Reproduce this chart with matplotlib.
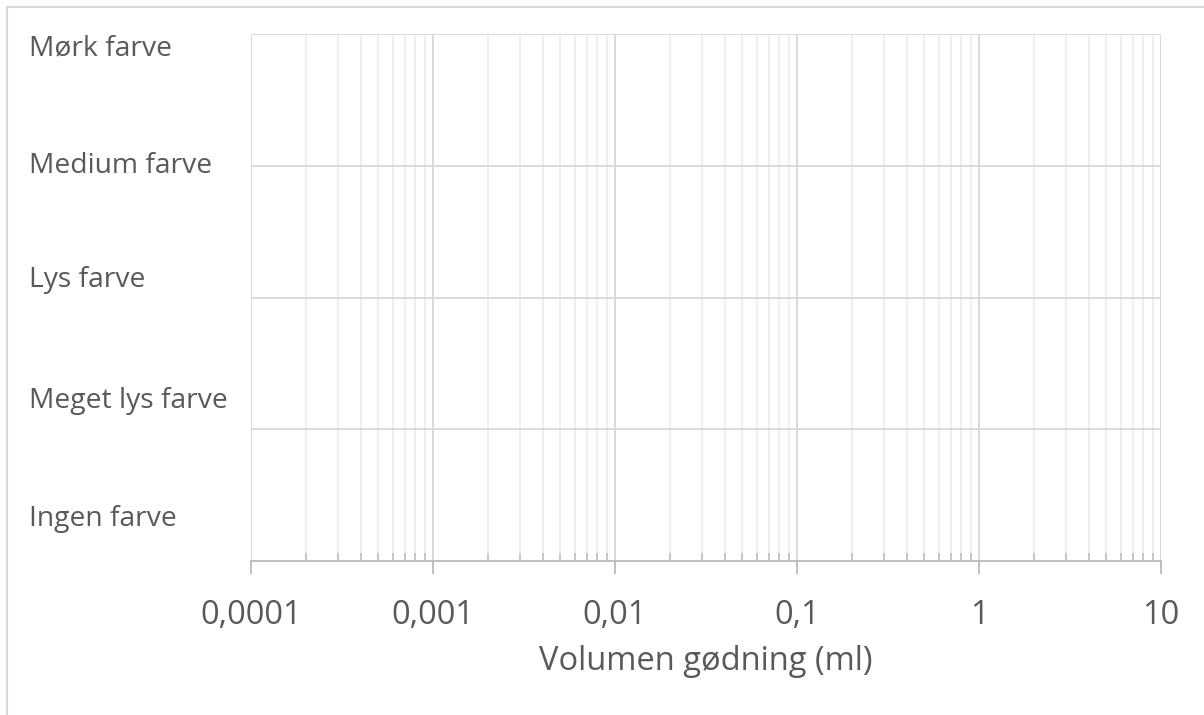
import matplotlib
matplotlib.use("Agg")
import matplotlib.pyplot as plt
from matplotlib.lines import Line2D
from matplotlib.ticker import FixedLocator, FuncFormatter, LogLocator, NullFormatter

# categories, bottom to top
categories = ["Ingen farve", "Meget lys farve", "Lys farve", "Medium farve", "Mørk farve"]
# label centres in figure pixels (text box, not tick labels)
label_y_px = [519, 401, 280, 166, 48]
x_ticks = [0.0001, 0.001, 0.01, 0.1, 1, 10]
x_label = "Volumen gødning (ml)"
y_levels = [0, 1, 2, 3, 4]

TEXT = "#595959"
FONT = ["Open Sans", "DejaVu Sans"]
W, H = 1204, 715

fig = plt.figure(figsize=(W / 100, H / 100), dpi=100)
ax = fig.add_axes([251 / W, (H - 561) / H, (1161 - 251) / W, (561 - 34) / H])

ax.set_xscale("log")
ax.set_xlim(x_ticks[0], x_ticks[-1])
ax.set_ylim(y_levels[0], y_levels[-1])

ax.xaxis.set_major_locator(FixedLocator(x_ticks))
ax.xaxis.set_minor_locator(LogLocator(base=10, subs=range(2, 10), numticks=20))
ax.xaxis.set_major_formatter(FuncFormatter(lambda v, _: "{:g}".format(v).replace(".", ",")))
ax.xaxis.set_minor_formatter(NullFormatter())
ax.set_yticks(y_levels)
ax.set_yticklabels([])
ax.tick_params(axis="y", length=0)

ax.grid(axis="x", which="major", color="#d9d9d9", linewidth=1.4)
ax.grid(axis="x", which="minor", color="#efefef", linewidth=1.4)
ax.grid(axis="y", which="major", color="#d9d9d9", linewidth=1.4)
ax.set_axisbelow(True)

for side in ("top", "left", "right"):
    ax.spines[side].set_visible(False)
ax.spines["bottom"].set_color("#bfbfbf")
ax.spines["bottom"].set_linewidth(1.4)

ax.tick_params(axis="x", which="major", direction="out", length=9.5, width=1.4,
               color="#bfbfbf", pad=17.5, labelsize=23.5, labelcolor=TEXT)
ax.tick_params(axis="x", which="minor", direction="in", length=5.8, width=1.2,
               color="#bfbfbf")
for lab in ax.get_xticklabels():
    lab.set_family(FONT)

ax.set_xlabel(x_label, fontsize=23.5, color=TEXT, family=FONT, labelpad=10)

for name, ypx in zip(categories, label_y_px):
    fig.text(29 / W, 1 - ypx / H, name, ha="left", va="center",
             fontsize=20.3, color=TEXT, family=FONT)

# chart-area border, only top and left edges visible in the crop
fig.add_artist(Line2D([7 / W, 1], [1 - 7 / H, 1 - 7 / H], color="#d9d9d9", linewidth=1.5))
fig.add_artist(Line2D([7 / W, 7 / W], [0, 1 - 7 / H], color="#d9d9d9", linewidth=1.5))

fig.savefig("out.png", dpi=100)
